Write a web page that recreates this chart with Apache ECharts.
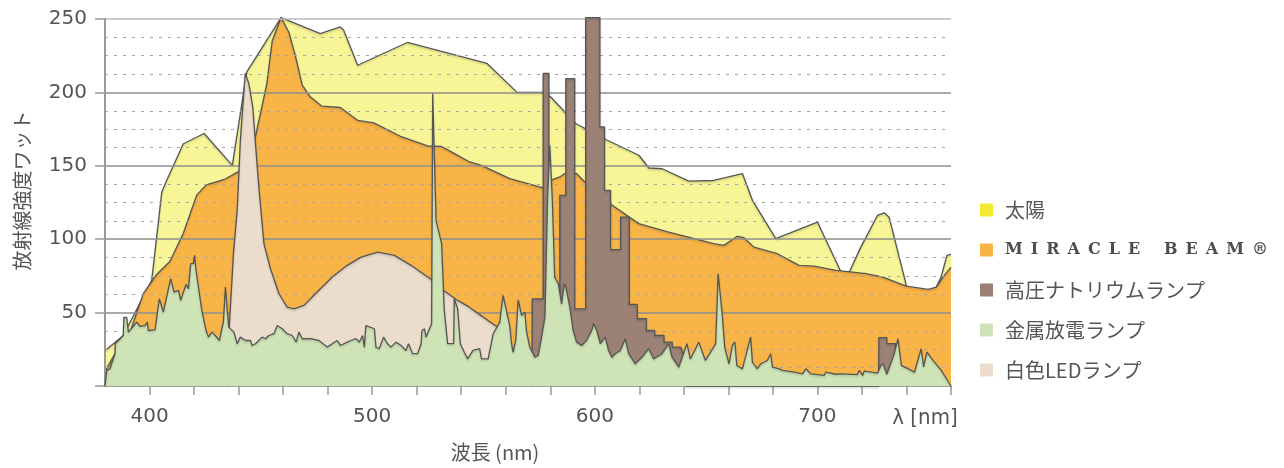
<!DOCTYPE html>
<html><head><meta charset="utf-8">
<script src="https://cdn.jsdelivr.net/npm/echarts@6/dist/echarts.min.js"></script>
<style>html,body{margin:0;padding:0;background:#fff}#c{width:1284px;height:468px}</style>
</head><body><div id="c"></div>
<script>
// ---- data (wavelength nm, radiant intensity) ----
const seriesNames = ['太陽', 'MIRACLE BEAM®', '高圧ナトリウムランプ', '白色LEDランプ', '金属放電ランプ'];
const legendOrder = ['太陽', 'MIRACLE BEAM®', '高圧ナトリウムランプ', '金属放電ランプ', '白色LEDランプ'];
const xLabelValues = [400, 500, 600, 700];
const xEndLabel = 'λ [nm]';
const yLabelValues = [50, 100, 150, 200, 250];

const sunData = [[380,24],[388.2,34.4],[401,72],[405.5,132],[407.7,140],[415.2,165],[424.5,172],[437.2,150.3],[443.7,214],[459.1,251],[476.7,240],[485.7,244.6],[487.2,242.4],[493.5,218.5],[515.8,234],[551.6,219.7],[565.1,200],[577.1,200],[580.1,197],[591.4,178.8],[605.6,167.4],[619.8,157.2],[624.3,148.5],[630.3,148],[642.2,139.6],[653.4,140],[666.3,144.7],[670.8,126.5],[681.3,100.4],[700,111.7],[710.5,78],[714.3,77.5],[719.5,94.6],[727,116.3],[730,118],[732.2,115],[740.2,67],[748,64],[753,66],[755.5,74],[758.2,89],[760,89.7]];

const beamData = [[380,10],[386,26],[391.2,36.5],[397.2,62.9],[403.2,76],[409.2,85],[415.2,104],[421.2,130],[425.5,137],[434,141],[440,146],[447.6,170],[452.7,206],[455.1,235],[459.1,251],[462.6,241],[465.5,225],[468.6,205],[472.2,197],[477.4,190.6],[485.7,189.7],[493.5,181],[500.7,179.2],[512.7,170.1],[524.9,163.5],[531,163.3],[537,158.3],[543.7,152.6],[549.1,150.3],[561.8,141.3],[576.8,134.9],[580,140],[584.3,142.4],[586.5,144.7],[591.8,144.7],[595.5,139],[606.9,124.2],[619.7,110.6],[633.2,104.9],[653.4,97],[658,95.8],[661,99],[664,102],[667,101],[671.5,94.6],[682,90.1],[691.8,82.2],[698.5,81.7],[708.3,78.7],[721.9,76.5],[729.4,74.2],[739.9,68],[749.7,65.8],[753.4,67.4],[756.4,74.2],[760,81]];

const sodiumData = [[571.8,0],[571.9,59.4],[576.8,59.4],[576.8,212.9],[579.4,212.9],[579.4,40],[584.3,40],[584.3,129.9],[587,129.9],[587,209.4],[591,209.4],[591,52.6],[595.9,52.6],[595.9,251],[602.3,251],[602.3,176.5],[604.4,176.5],[604.4,133.3],[607.1,133.3],[607.1,92.9],[611.6,92.9],[611.6,115.1],[615.5,115.1],[615.5,55.6],[619.1,55.6],[619.1,45.8],[623.2,45.8],[623.2,37.8],[626.9,37.8],[626.9,34.4],[631.1,34.4],[631.1,29.9],[634.8,29.9],[634.8,26.5],[638.6,26.5],[640.5,18],[641,0],[727.5,0],[727.6,32.9],[731.2,32.9],[731.2,28.8],[735.1,28.8],[735.2,0]];

const ledData = [[435.4,0],[435.8,40],[437.7,90],[439.4,120],[440.8,167],[443,213],[444.6,206],[446.4,190],[447.6,165],[449.1,135.5],[451.4,97],[454.3,80],[458.1,63],[461.8,53.7],[464.9,52.6],[469.4,54.9],[474.6,63],[482.1,74.2],[488.8,82.2],[495,87.8],[502.5,91.2],[510,89],[517.5,82.2],[526.7,72.4],[531,66.3],[538.4,58.3],[543.7,53.7],[545.6,51.5],[557.3,39],[557.6,37],[558,0]];

const metalData = [[380,0],[380.8,10.6],[382.2,11.7],[384.5,22],[384.6,28.8],[388.2,34.4],[388.5,46.9],[389.8,46.5],[390.5,36.7],[391.2,35.6],[394.3,43.5],[395.7,40.6],[398,41.2],[399,43.5],[399.5,37.8],[402.5,38.3],[404.4,59.4],[406.2,50.3],[409.5,73.1],[411,64],[413,65.1],[414,58.3],[416.4,69.2],[417.5,66.3],[418.5,83.3],[419.7,83.3],[420.2,89],[420.9,78.7],[422.4,62.9],[423.5,51.5],[425.4,37.8],[426.5,33.3],[428,36.7],[429.5,34.4],[431.4,31],[433.2,44],[434.1,67.4],[434.9,51.5],[435.6,40.1],[437.9,36.7],[439.4,28.8],[440.8,33.3],[443.1,31],[445.3,31],[446.1,27.6],[447.6,28.8],[450.6,33.3],[452.1,32.2],[453.6,34.4],[455.9,35.6],[457.4,41.2],[459.6,39],[461.8,35.6],[464.1,34.4],[465.9,29.9],[467.1,36.7],[468.6,32.2],[472.3,32.2],[476.1,31],[479.8,26.5],[482.1,28.8],[484.3,31],[485.8,27.6],[488.8,29.9],[490.5,31],[492.7,32.2],[494.2,29.9],[495.7,34.4],[496.5,26.5],[497.2,41.2],[501,39],[501.7,26.5],[503.2,25.4],[505.1,33.3],[506.9,28.8],[508.5,26.5],[510.7,29.9],[513,27.6],[515.2,24.2],[516.3,28.8],[518.2,22],[520.4,22],[522,28.8],[522.4,37.8],[523.5,39],[524.2,33.3],[526.7,42.4],[527.2,199.2],[528.7,112.8],[531.2,97],[532.4,51.5],[533.9,28.8],[536.6,28.8],[536.9,59.4],[538.4,52.6],[539.6,28.8],[541.4,23],[542.9,18.5],[545.3,24.2],[548.3,25.4],[549.1,18.5],[552.1,18.5],[554.4,35.6],[557.3,43.5],[558.8,61.7],[560.3,51.5],[561.8,41.2],[562.6,28.8],[563.3,23],[564.5,31],[565.6,58.8],[567.1,48.1],[568.6,50.3],[569.3,37.8],[570.8,26.5],[573.1,19.6],[574.6,20.8],[576.1,33.3],[577.6,46.9],[578.8,128.7],[579.8,164],[581,124.2],[582,74.2],[583.6,69.7],[585.1,56],[586.3,69.7],[587,67.4],[588.8,53.7],[590.3,37.8],[591.8,29.9],[594.1,27.6],[596.3,31],[598.6,37.8],[599.4,42.4],[600.9,37.8],[602.5,28.8],[604.7,33.3],[606.2,24.2],[607.7,19.6],[609.2,22],[611.5,24.2],[613.7,32.2],[615.2,22],[618.2,15.1],[621.2,19.6],[624.2,25.4],[626.4,18.5],[630.2,22],[633.2,28.8],[634.7,19.6],[637.7,12.8],[641.4,28.8],[642.9,18.5],[644.9,24.2],[646.7,29.9],[649.7,17.4],[653.4,26.5],[654.3,29],[655.4,76.5],[657.3,48.1],[658.4,26],[660.3,15.1],[661.8,27.6],[662.9,30],[663.8,14],[666.3,11.7],[670,33.3],[670.8,16.2],[673,11.7],[674.5,15.1],[677.5,17.4],[679,22],[679.8,12.8],[682.8,11.7],[684.3,10.6],[689.5,9.4],[693.3,8.3],[694.8,11.7],[697,8.3],[703,7.2],[703.8,9.4],[708.3,8],[709.9,8.3],[718,7.8],[718.8,10.6],[720.3,7.2],[721,10.1],[727,8.7],[728.5,14],[729.4,15.1],[731.2,8],[734.5,22],[736.2,32.2],[737.7,14],[743.6,9.4],[746.6,25.4],[747.7,13],[749.2,23],[751.9,17.4],[755.6,10.6],[760,0]];

const colors = {
  '太陽': {legend: '#f3ea30', area: '#f8f597'},
  'MIRACLE BEAM®': {legend: '#f9b448', area: '#f9b448'},
  '高圧ナトリウムランプ': {legend: '#9b8275', area: '#9b8275'},
  '白色LEDランプ': {legend: '#ecdccb', area: '#ecdccb'},
  '金属放電ランプ': {legend: '#cfe4b6', area: '#cfe4b6'}
};
const dataByName = {
  '太陽': sunData, 'MIRACLE BEAM®': beamData, '高圧ナトリウムランプ': sodiumData,
  '白色LEDランプ': ledData, '金属放電ランプ': metalData
};
// series drawn beneath the grid lines (others are drawn over them)
const underGrid = ['太陽', 'MIRACLE BEAM®'];

const chart = echarts.init(document.getElementById('c'), null, {renderer: 'canvas'});
const gray = '#555';
const mbSpaced = 'M\u2002I\u2002R\u2002A\u2002C\u2002L\u2002E\u2003\u2002B\u2002E\u2002A\u2002M\u2002®';

chart.setOption({
  animation: false,
  backgroundColor: '#fff',
  grid: {left: 105, right: 333, top: 19, bottom: 82},
  legend: {
    orient: 'vertical', left: 975, top: 195, itemGap: 20,
    itemWidth: 13, itemHeight: 13, icon: 'rect',
    data: legendOrder.map(n => ({name: n, itemStyle: {color: colors[n].legend, borderWidth: 0}})),
    textStyle: {fontSize: 20, lineHeight: 20, color: gray, fontFamily: 'Noto Sans CJK JP', padding: [0,0,0,7],
      rich: {mb: {fontFamily: 'DejaVu Serif', fontWeight: 'bold', fontSize: 16, color: '#4d4d4d'}}},
    formatter: n => n === 'MIRACLE BEAM®' ? '{mb|' + mbSpaced + '}' : n
  },
  xAxis: {
    type: 'value', min: 380, max: 760, interval: 20,
    name: '波長 (nm)', nameLocation: 'middle', nameGap: 56,
    nameTextStyle: {fontSize: 20, color: gray, fontFamily: 'Noto Sans CJK JP', padding: [0,66,0,0]},
    axisLine: {show: true, lineStyle: {color: '#999', width: 1.5}},
    axisTick: {show: true, length: 9, lineStyle: {color: '#999', width: 1.5}},
    splitLine: {show: false},
    axisLabel: {
      margin: 21, fontSize: 20, color: gray, fontFamily: 'DejaVu Sans', showMaxLabel: true, showMinLabel: false,
      formatter: v => v === 760 ? '{l|' + xEndLabel + '}' : (xLabelValues.includes(v) ? String(v) : ''),
      rich: {l: {fontSize: 22, color: gray, fontFamily: 'DejaVu Sans Condensed', padding: [0,52,0,0]}}
    }
  },
  yAxis: {
    type: 'value', min: 0, max: 250, interval: 50, z: 3,
    name: '放射線強度ワット', nameLocation: 'middle', nameGap: 73,
    nameTextStyle: {fontSize: 20, color: gray, fontFamily: 'Noto Sans CJK JP', padding: [0,0,0,24]},
    axisLine: {show: true, lineStyle: {color: '#999', width: 2}},
    axisTick: {show: true, length: 10, lineStyle: {color: '#999', width: 1.5}},
    axisLabel: {margin: 18, fontSize: 20, color: gray, fontFamily: 'DejaVu Sans',
      formatter: v => yLabelValues.includes(v) ? String(v) : ''},
    splitLine: {show: true, lineStyle: {color: ['#999','#8e8e8e','#8e8e8e','#8e8e8e','#8e8e8e','#bbb'], width: 1.5}},
    minorTick: {show: false, splitNumber: 4},
    minorSplitLine: {show: true, lineStyle: {color: '#a5a5a5', width: 1.2, type: [3, 6]}}
  },
  series: seriesNames.map((n, i) => ({
    name: n, type: 'line', data: dataByName[n], z: (underGrid.includes(n) ? 2 : 5) + i * 0.01,
    symbol: 'none', showSymbol: false, clip: false,
    itemStyle: {color: colors[n].legend},
    lineStyle: {color: '#555', width: 1.3, shadowColor: 'rgba(0,0,0,0.18)', shadowBlur: 2, shadowOffsetY: 1.5},
    areaStyle: {color: colors[n].area, opacity: 1},
    emphasis: {disabled: true}
  }))
});
</script></body></html>
